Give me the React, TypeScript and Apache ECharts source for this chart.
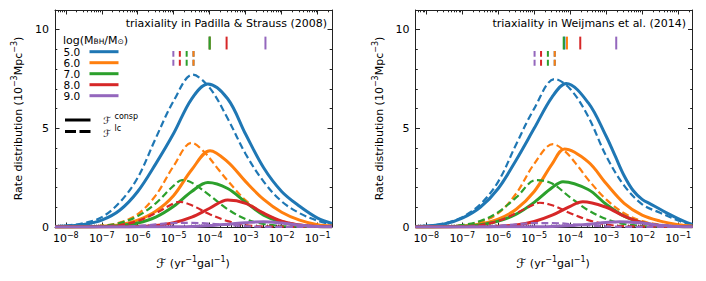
import React, { useEffect, useRef } from "react";
import * as echarts from "echarts";

// ---------- axis / label data ----------
const X_MIN = -8.3; // log10 of F (yr^-1 gal^-1)
const X_MAX = -0.6;
const Y_MIN = 0;
const Y_MAX = 11;
const X_MAJOR = [-8, -7, -6, -5, -4, -3, -2, -1];
const X_TICK_EXPONENTS = ["−8", "−7", "−6", "−5", "−4", "−3", "−2", "−1"];
const Y_MAJOR = [0, 5, 10];
const Y_TICK_LABELS = ["0", "5", "10"];
const Y_MINOR = [1, 2, 3, 4, 6, 7, 8, 9];
const MASS_LABELS = ["5.0", "6.0", "7.0", "8.0", "9.0"];
const COLORS = ["#1f77b4", "#ff7f0e", "#2ca02c", "#d62728", "#9467bd"];
const TITLES = ["triaxiality in Padilla & Strauss (2008)", "triaxiality in Weijmans et al. (2014)"];

// ---------- Padilla & Strauss (2008) panel: [log10 F, rate] ----------
const P08_M5_CONSP = [[-8.3,0.02],[-8,0.05],[-7.5,0.13],[-7,0.35],[-6.5,0.85],[-6,1.8],[-5.5,3.2],[-5,4.75],[-4.5,6.5],[-4.05,7.25],[-3.5,6.5],[-3,4.7],[-2.5,3.0],[-2,1.8],[-1.5,1.05],[-1,0.45],[-0.6,0.18]];
const P08_M5_LC = [[-8.3,0.03],[-8,0.07],[-7.5,0.2],[-7,0.5],[-6.5,1.25],[-6,2.5],[-5.5,4.5],[-5,6.4],[-4.47,7.72],[-4,7.05],[-3.5,5.5],[-3,3.7],[-2.5,2.3],[-2,1.3],[-1.5,0.7],[-1,0.32],[-0.6,0.12]];
const P08_M6_CONSP = [[-8.3,0],[-7.5,0.01],[-7,0.04],[-6.5,0.12],[-6,0.35],[-5.5,0.8],[-5,1.6],[-4.5,2.9],[-3.99,3.87],[-3.5,3.3],[-3,2.3],[-2.5,1.4],[-2,0.75],[-1.5,0.35],[-1,0.12],[-0.6,0.05]];
const P08_M6_LC = [[-8.3,0],[-7.5,0.02],[-7,0.07],[-6.5,0.22],[-6,0.65],[-5.5,1.6],[-5,3.1],[-4.5,4.27],[-4.15,3.8],[-3.75,2.9],[-3.5,2.35],[-3,1.35],[-2.5,0.7],[-2,0.3],[-1.5,0.12],[-1,0.04],[-0.6,0.02]];
const P08_M7_CONSP = [[-8.3,0],[-7,0.02],[-6.5,0.07],[-6,0.2],[-5.5,0.5],[-5,1.05],[-4.5,1.8],[-4.05,2.25],[-3.5,1.95],[-3,1.25],[-2.5,0.6],[-2,0.25],[-1.5,0.08],[-1,0.02],[-0.6,0.01]];
const P08_M7_LC = [[-8.3,0],[-7.5,0.02],[-7,0.06],[-6.5,0.2],[-6,0.55],[-5.5,1.2],[-5,2.1],[-4.77,2.38],[-4.5,2.25],[-4,1.6],[-3.5,0.9],[-3,0.4],[-2.5,0.15],[-2,0.05],[-1.5,0.01],[-0.6,0]];
const P08_M8_CONSP = [[-8.3,0],[-6.5,0.01],[-6,0.03],[-5.5,0.08],[-5,0.22],[-4.5,0.5],[-4,0.95],[-3.5,1.37],[-3,1.2],[-2.5,0.7],[-2,0.3],[-1.5,0.1],[-1,0.03],[-0.6,0.01]];
const P08_M8_LC = [[-8.3,0],[-7,0.03],[-6.5,0.1],[-6,0.3],[-5.5,0.7],[-5,1.2],[-4.83,1.27],[-4.5,1.1],[-4,0.65],[-3.5,0.3],[-3,0.1],[-2.5,0.03],[-0.6,0]];
const P08_M9_CONSP = [[-8.3,0],[-5,0.01],[-4.5,0.03],[-4,0.07],[-3.5,0.14],[-3,0.22],[-2.5,0.27],[-2,0.2],[-1.5,0.09],[-1,0.03],[-0.6,0.01]];
const P08_M9_LC = [[-8.3,0],[-6.5,0.01],[-6,0.05],[-5.5,0.13],[-5,0.2],[-4.5,0.21],[-4,0.17],[-3.5,0.1],[-3,0.04],[-2.5,0.01],[-0.6,0]];

// ---------- Weijmans et al. (2014) panel ----------
const W14_M5_CONSP = [[-8.3,0.02],[-8,0.05],[-7.5,0.15],[-7,0.45],[-6.5,1.0],[-6,1.95],[-5.5,3.4],[-5,5.0],[-4.5,6.6],[-4.11,7.28],[-3.5,6.3],[-3,4.6],[-2.75,3.6],[-2.5,2.6],[-2.25,1.85],[-2,1.4],[-1.75,1.15],[-1.5,0.9],[-1.25,0.65],[-1,0.42],[-0.75,0.22],[-0.6,0.13]];
const W14_M5_LC = [[-8.3,0.02],[-8,0.06],[-7.5,0.18],[-7,0.5],[-6.5,1.15],[-6,2.3],[-5.5,4.2],[-5,6.0],[-4.43,7.5],[-4,7.0],[-3.5,5.6],[-3,3.6],[-2.5,2.1],[-2,1.15],[-1.5,0.72],[-1,0.33],[-0.6,0.08]];
const W14_M6_CONSP = [[-8.3,0],[-7.5,0.01],[-7,0.05],[-6.5,0.15],[-6,0.4],[-5.5,0.9],[-5,1.8],[-4.5,3.2],[-4.16,3.95],[-3.5,3.3],[-3,2.2],[-2.5,1.2],[-2,0.6],[-1.5,0.3],[-1,0.12],[-0.6,0.05]];
const W14_M6_LC = [[-8.3,0],[-7.5,0.02],[-7,0.08],[-6.5,0.25],[-6,0.7],[-5.5,1.7],[-5,3.2],[-4.48,4.2],[-4.15,3.85],[-3.75,3.0],[-3.5,2.4],[-3,1.4],[-2.5,0.7],[-2,0.3],[-1.5,0.12],[-1,0.04],[-0.6,0.02]];
const W14_M7_CONSP = [[-8.3,0],[-7.5,0.01],[-7,0.04],[-6.5,0.12],[-6,0.3],[-5.5,0.65],[-5,1.25],[-4.5,2.0],[-4.2,2.3],[-3.5,1.9],[-3,1.15],[-2.5,0.55],[-2,0.22],[-1.5,0.07],[-1,0.02],[-0.6,0.01]];
const W14_M7_LC = [[-8.3,0],[-7.5,0.03],[-7,0.1],[-6.5,0.3],[-6,0.75],[-5.5,1.5],[-4.94,2.38],[-4.5,2.2],[-4,1.5],[-3.5,0.85],[-3,0.4],[-2.5,0.15],[-2,0.05],[-1.5,0.01],[-0.6,0]];
const W14_M8_CONSP = [[-8.3,0],[-6.5,0.01],[-6,0.04],[-5.5,0.1],[-5,0.28],[-4.5,0.6],[-4,1.05],[-3.65,1.28],[-3,1.0],[-2.5,0.55],[-2,0.22],[-1.5,0.07],[-1,0.02],[-0.6,0.01]];
const W14_M8_LC = [[-8.3,0],[-7,0.03],[-6.5,0.1],[-6,0.3],[-5.5,0.7],[-5,1.15],[-4.85,1.23],[-4.5,1.1],[-4,0.7],[-3.5,0.35],[-3,0.13],[-2.5,0.04],[-0.6,0]];
const W14_M9_CONSP = [[-8.3,0],[-5,0.01],[-4.5,0.03],[-4,0.07],[-3.5,0.14],[-3,0.23],[-2.63,0.27],[-2,0.2],[-1.5,0.09],[-1,0.03],[-0.6,0.01]];
const W14_M9_LC = [[-8.3,0],[-6.5,0.02],[-6,0.06],[-5.5,0.14],[-5,0.2],[-4.5,0.2],[-4,0.15],[-3.5,0.08],[-3,0.03],[-2.5,0.01],[-0.6,0]];

// ---------- median markers (log10 F) ----------
const P08_MARK_CONSP = [-4.0, -4.0, -4.0, -3.53, -2.45];
const P08_MARK_LC = [-4.45, -4.45, -4.64, -4.83, -5.01];
const W14_MARK_CONSP = [-4.16, -4.09, -4.18, -3.72, -2.72];
const W14_MARK_LC = [-4.43, -4.43, -4.62, -4.81, -4.99];
const MARK_CONSP_RANGE = [9.0, 9.65];
const MARK_LC_RANGE = [8.17, 8.92];

const PANELS = [
  { consp: [P08_M5_CONSP, P08_M6_CONSP, P08_M7_CONSP, P08_M8_CONSP, P08_M9_CONSP], lc: [P08_M5_LC, P08_M6_LC, P08_M7_LC, P08_M8_LC, P08_M9_LC], markC: P08_MARK_CONSP, markL: P08_MARK_LC },
  { consp: [W14_M5_CONSP, W14_M6_CONSP, W14_M7_CONSP, W14_M8_CONSP, W14_M9_CONSP], lc: [W14_M5_LC, W14_M6_LC, W14_M7_LC, W14_M8_LC, W14_M9_LC], markC: W14_MARK_CONSP, markL: W14_MARK_LC },
];

const FONT = "DejaVu Sans";
const FRAME = "#222";

const X_MINOR: number[] = [];
for (let n = -9; n <= -1; n++) {
  for (let k = 2; k <= 9; k++) {
    const v = n + Math.log10(k);
    if (v >= X_MIN && v <= X_MAX) X_MINOR.push(v);
  }
}

const GRIDS = [
  { left: 55, top: 10, width: 277, height: 217 },
  { left: 415.5, top: 10, width: 277, height: 217 },
];

function xAxes(gi: number) {
  const base = (position: string, ticks: number[], len: number, labels: boolean, line: boolean) => ({
    type: "value",
    gridIndex: gi,
    position,
    min: X_MIN,
    max: X_MAX,
    splitLine: { show: false },
    axisLine: { show: line, onZero: false, lineStyle: { color: FRAME, width: 1 } },
    axisTick: { show: true, inside: true, length: len, customValues: ticks, lineStyle: { color: FRAME, width: 1 } },
    axisLabel: labels
      ? {
          show: true,
          customValues: X_MAJOR,
          margin: 4,
          fontSize: 11,
          fontFamily: FONT,
          color: "#000",
          formatter: (v: number) => {
            const i = X_MAJOR.indexOf(Math.round(v));
            return i < 0 ? "" : "{b|10}{s|" + X_TICK_EXPONENTS[i] + "}";
          },
          rich: {
            b: { fontSize: 11, fontFamily: FONT, color: "#000", lineHeight: 15 },
            s: { fontSize: 8, fontFamily: FONT, color: "#000", lineHeight: 9, verticalAlign: "top" },
          },
        }
      : { show: false },
  });
  return [
    base("bottom", X_MAJOR, 4.5, true, true),
    base("bottom", X_MINOR, 2.3, false, false),
    base("top", X_MAJOR, 4.5, false, true),
    base("top", X_MINOR, 2.3, false, false),
  ];
}

function yAxes(gi: number) {
  const base = (position: string, ticks: number[], len: number, labels: boolean, line: boolean) => ({
    type: "value",
    gridIndex: gi,
    position,
    min: Y_MIN,
    max: Y_MAX,
    splitLine: { show: false },
    axisLine: { show: line, onZero: false, lineStyle: { color: FRAME, width: 1 } },
    axisTick: { show: true, inside: true, length: len, customValues: ticks, lineStyle: { color: FRAME, width: 1 } },
    axisLabel: labels
      ? {
          show: true,
          customValues: Y_MAJOR,
          margin: 6,
          fontSize: 11,
          fontFamily: FONT,
          color: "#000",
          formatter: (v: number) => Y_TICK_LABELS[Y_MAJOR.indexOf(Math.round(v))] ?? "",
        }
      : { show: false },
  });
  return [
    base("left", Y_MAJOR, 4.5, true, true),
    base("left", Y_MINOR, 2.3, false, false),
    base("right", Y_MAJOR, 4.5, false, true),
    base("right", Y_MINOR, 2.3, false, false),
  ];
}

function buildSeries() {
  const series: any[] = [];
  PANELS.forEach((p, gi) => {
    const ax = gi * 4;
    for (let m = 0; m < 5; m++) {
      series.push({
        type: "line", xAxisIndex: ax, yAxisIndex: ax, data: p.consp[m], smooth: 0.35, showSymbol: false, symbol: "none",
        lineStyle: { color: COLORS[m], width: 3 }, z: 3,
      });
      series.push({
        type: "line", xAxisIndex: ax, yAxisIndex: ax, data: p.lc[m], smooth: 0.35, showSymbol: false, symbol: "none",
        lineStyle: { color: COLORS[m], width: 2.2, type: [7, 3.5] }, z: 3,
      });
    }
    for (let m = 0; m < 5; m++) {
      series.push({
        type: "line", xAxisIndex: ax, yAxisIndex: ax,
        data: [[p.markC[m], MARK_CONSP_RANGE[0]], [p.markC[m], MARK_CONSP_RANGE[1]]],
        showSymbol: false, symbol: "none", lineStyle: { color: COLORS[m], width: 2 }, z: 4,
      });
    }
    for (let m = 0; m < 5; m++) {
      series.push({
        type: "line", xAxisIndex: ax, yAxisIndex: ax,
        data: [[p.markL[m], MARK_LC_RANGE[0]], [p.markL[m], MARK_LC_RANGE[1]]],
        showSymbol: false, symbol: "none", lineStyle: { color: COLORS[m], width: 2, type: [6, 3] }, z: 4,
      });
    }
  });
  return series;
}

function buildGraphic() {
  const g: any[] = [];
  const txt = (x: number, y: number, text: string, extra: any = {}) => ({
    type: "text", x, y, silent: true,
    style: { text, fontSize: 11, fontFamily: FONT, fill: "#000", textVerticalAlign: "middle", ...extra },
  });
  // titles
  g.push(txt(327, 23, TITLES[0], { textAlign: "right" }));
  g.push(txt(686, 23, TITLES[1], { textAlign: "right" }));
  // y axis names
  [18, 379].forEach((x) => {
    g.push({
      type: "text", x, y: 118.5, rotation: Math.PI / 2, silent: true,
      style: {
        text: "{n|Rate distribution (10}{s|−3}{n|Mpc}{s|−3}{n|)}",
        textAlign: "center", textVerticalAlign: "middle",
        rich: {
          n: { fontSize: 11, fontFamily: FONT, fill: "#000", lineHeight: 15 },
          s: { fontSize: 8, fontFamily: FONT, fill: "#000", lineHeight: 9, verticalAlign: "top" },
        },
      },
    });
  });
  // x axis names
  [193, 553].forEach((x) => {
    g.push({
      type: "text", x, y: 263, silent: true,
      style: {
        text: "{f|ℱ}{n| (yr}{s|−1}{n|gal}{s|−1}{n|)}",
        textAlign: "center", textVerticalAlign: "middle",
        rich: {
          f: { fontSize: 13, fontFamily: FONT, fontStyle: "italic", fill: "#000", lineHeight: 15 },
          n: { fontSize: 11, fontFamily: FONT, fill: "#000", lineHeight: 15 },
          s: { fontSize: 8, fontFamily: FONT, fill: "#000", lineHeight: 9, verticalAlign: "top" },
        },
      },
    });
  });
  // mass legend
  g.push({
    type: "text", x: 63, y: 40.5, silent: true,
    style: {
      text: "{n|log(M}{s|BH}{n|/M}{s|⊙}{n|)}",
      textVerticalAlign: "middle",
      rich: {
        n: { fontSize: 11, fontFamily: FONT, fill: "#000", lineHeight: 10 },
        s: { fontSize: 7.5, fontFamily: FONT, fill: "#000", lineHeight: 6, verticalAlign: "bottom" },
      },
    },
  });
  MASS_LABELS.forEach((lab, i) => {
    const y = 51.7 + i * 11;
    g.push(txt(63.5, y, lab, { fontSize: 10.5 }));
    g.push({ type: "line", silent: true, shape: { x1: 89.5, y1: y, x2: 118.5, y2: y }, style: { stroke: COLORS[i], lineWidth: 3 } });
  });
  // line-style legend
  g.push({ type: "line", silent: true, shape: { x1: 65, y1: 120, x2: 90.5, y2: 120 }, style: { stroke: "#000", lineWidth: 3 } });
  g.push({ type: "line", silent: true, shape: { x1: 65, y1: 131.5, x2: 90.5, y2: 131.5 }, style: { stroke: "#000", lineWidth: 3, lineDash: [11, 3.5] } });
  g.push(txt(103, 120.5, "ℱ", { fontSize: 10, fontStyle: "italic" }));
  g.push(txt(103, 133, "ℱ", { fontSize: 10, fontStyle: "italic" }));
  g.push(txt(114.5, 116, "consp", { fontSize: 8 }));
  g.push(txt(114.5, 128.5, "lc", { fontSize: 8 }));
  return g;
}

export default function App() {
  const ref = useRef<HTMLDivElement>(null);
  useEffect(() => {
    if (!ref.current) return;
    const chart = echarts.init(ref.current, undefined, { renderer: "svg" });
    chart.setOption({
      animation: false,
      backgroundColor: "#fff",
      grid: GRIDS,
      xAxis: [...xAxes(0), ...xAxes(1)],
      yAxis: [...yAxes(0), ...yAxes(1)],
      series: buildSeries(),
      graphic: buildGraphic(),
    });
    return () => chart.dispose();
  }, []);
  return <div ref={ref} style={{ position: "absolute", left: 0, top: 0, width: 706, height: 281 }} />;
}
